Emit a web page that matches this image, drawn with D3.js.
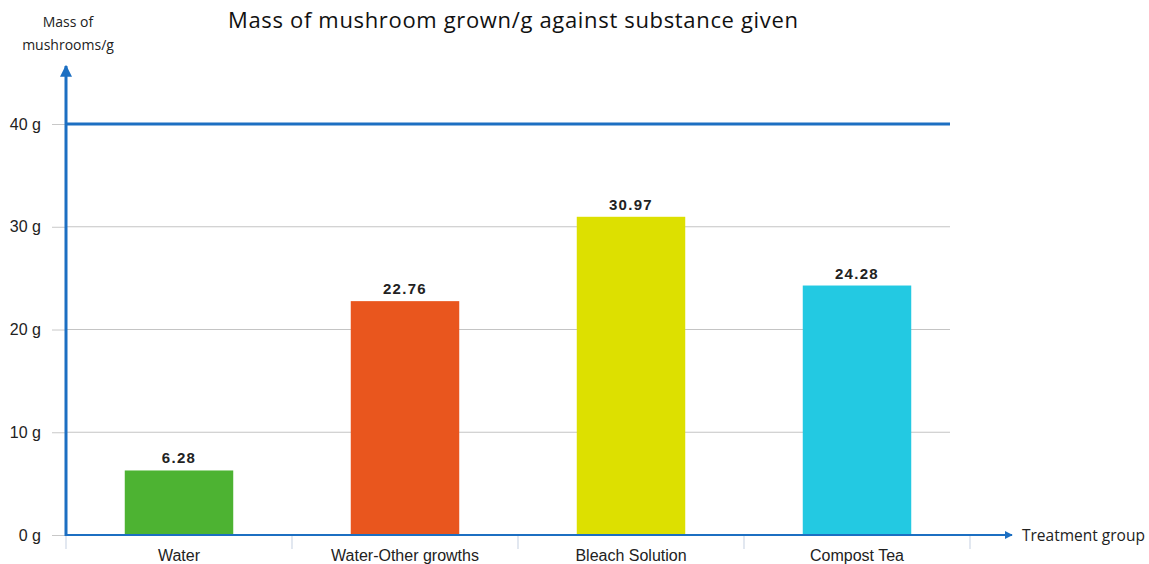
<!DOCTYPE html>
<html>
<head>
<meta charset="utf-8">
<script src="https://cdn.jsdelivr.net/npm/d3@7"></script>
<style>
  body { margin: 0; background: #fff; }
  text { font-family: "Liberation Sans", Arial, sans-serif; }
  .titulo { font-family: "Open Sans", "Noto Sans", sans-serif; }
</style>
</head>
<body>
<svg width="1149" height="564"></svg>
<script>
const grupos = ['Water', 'Water-Other growths', 'Bleach Solution', 'Compost Tea'];
const massas = [6.28, 22.76, 30.97, 24.28];
const rotulos = ['6.28', '22.76', '30.97', '24.28'];
const cores = ['#4db332', '#e9561e', '#dde000', '#23c9e2'];
const yTicks = [0, 10, 20, 30, 40];

const svg = d3.select('svg');
const azul = '#1c6fc2';

const marg = { cima: 124, esquerda: 66, baixo: 29 };
const altura = +svg.attr('height');
const baseY = altura - marg.baixo;

const yEscala = d3.scaleLinear()
    .domain([0, 40])
    .range([baseY, marg.cima]);

const xEscala = d3.scaleBand()
    .domain(grupos)
    .range([66, 970])
    .paddingInner(0.52)
    .paddingOuter(0.26);

const dados = grupos.map((g, i) => ({ grupo: g, massa: massas[i], rotulo: rotulos[i], cor: cores[i] }));

// ticks e labels do eixo y
const yAxis = d3.axisLeft(yEscala)
    .tickValues(yTicks)
    .tickFormat(d => d + ' g')
    .tickSize(14)
    .tickPadding(11);

const yAxisG = svg.append('g')
    .attr('transform', `translate(${marg.esquerda},0)`)
    .call(yAxis);
yAxisG.select('.domain').remove();
yAxisG.selectAll('.tick line').attr('stroke', '#c8c8c8');
yAxisG.selectAll('.tick text')
    .attr('font-size', 16)
    .attr('fill', '#222');

// grade
svg.append('g')
    .selectAll('line').data(yTicks.filter(d => d > 0))
    .enter().append('line')
        .attr('x1', marg.esquerda)
        .attr('x2', 950)
        .attr('y1', d => yEscala(d))
        .attr('y2', d => yEscala(d))
        .attr('stroke', d => d === 40 ? azul : '#c4c4c4')
        .attr('stroke-width', d => d === 40 ? 3 : 1.2);

// separadores das categorias
const passo = xEscala.step();
const seps = grupos.map(g => xEscala(g) - passo * xEscala.paddingInner() / 2);
seps.push(seps[seps.length - 1] + passo);
svg.append('g')
    .selectAll('line').data(seps)
    .enter().append('line')
        .attr('x1', d => d).attr('x2', d => d)
        .attr('y1', baseY).attr('y2', baseY + 14)
        .attr('stroke', '#cfd8e6')
        .attr('stroke-width', 1.2);

// barras
svg.append('g')
    .selectAll('rect').data(dados)
    .enter().append('rect')
        .attr('x', d => xEscala(d.grupo))
        .attr('y', d => yEscala(d.massa))
        .attr('width', xEscala.bandwidth())
        .attr('height', d => baseY - yEscala(d.massa))
        .attr('fill', d => d.cor);

svg.append('g')
    .selectAll('text').data(dados)
    .enter().append('text')
        .attr('x', d => xEscala(d.grupo) + xEscala.bandwidth() / 2)
        .attr('y', d => yEscala(d.massa) - 7)
        .attr('text-anchor', 'middle')
        .attr('font-size', 15)
        .attr('font-weight', 'bold')
        .attr('letter-spacing', 1.3)
        .attr('fill', '#222')
        .text(d => d.rotulo);

// nomes das categorias
svg.append('g')
    .selectAll('text').data(grupos)
    .enter().append('text')
        .attr('x', d => xEscala(d) + xEscala.bandwidth() / 2)
        .attr('y', 561)
        .attr('text-anchor', 'middle')
        .attr('font-size', 16)
        .attr('fill', '#222')
        .text(d => d);

// eixos com setas
const defs = svg.append('defs');
defs.append('marker')
    .attr('id', 'seta')
    .attr('viewBox', '0 0 10 10')
    .attr('refX', 9).attr('refY', 5)
    .attr('markerWidth', 4).attr('markerHeight', 4)
    .attr('orient', 'auto')
  .append('path')
    .attr('d', 'M0,0 L10,5 L0,10 z')
    .attr('fill', azul);

svg.append('line')
    .attr('x1', marg.esquerda).attr('x2', marg.esquerda)
    .attr('y1', baseY + 1).attr('y2', 66)
    .attr('stroke', azul).attr('stroke-width', 3)
    .attr('marker-end', 'url(#seta)');

svg.append('line')
    .attr('x1', marg.esquerda - 1).attr('x2', 1012)
    .attr('y1', baseY).attr('y2', baseY)
    .attr('stroke', azul).attr('stroke-width', 2)
    .attr('marker-end', 'url(#seta)');

svg.append('text')
    .attr('x', 1022).attr('y', 541)
    .attr('font-size', 15.5)
    .attr('fill', '#222')
    .attr('class', 'titulo')
    .text('Treatment group');

// label do eixo y
const yLabel = svg.append('text')
    .attr('class', 'titulo')
    .attr('text-anchor', 'middle')
    .attr('font-size', 14)
    .attr('fill', '#222');
yLabel.append('tspan').attr('x', 68).attr('y', 27).text('Mass of');
yLabel.append('tspan').attr('x', 68).attr('y', 50).text('mushrooms/g');

svg.append('text')
    .attr('class', 'titulo')
    .attr('x', 228).attr('y', 28)
    .attr('font-size', 22)
    .attr('fill', '#111')
    .attr('textLength', 570)
    .text('Mass of mushroom grown/g against substance given');
</script>
</body>
</html>
